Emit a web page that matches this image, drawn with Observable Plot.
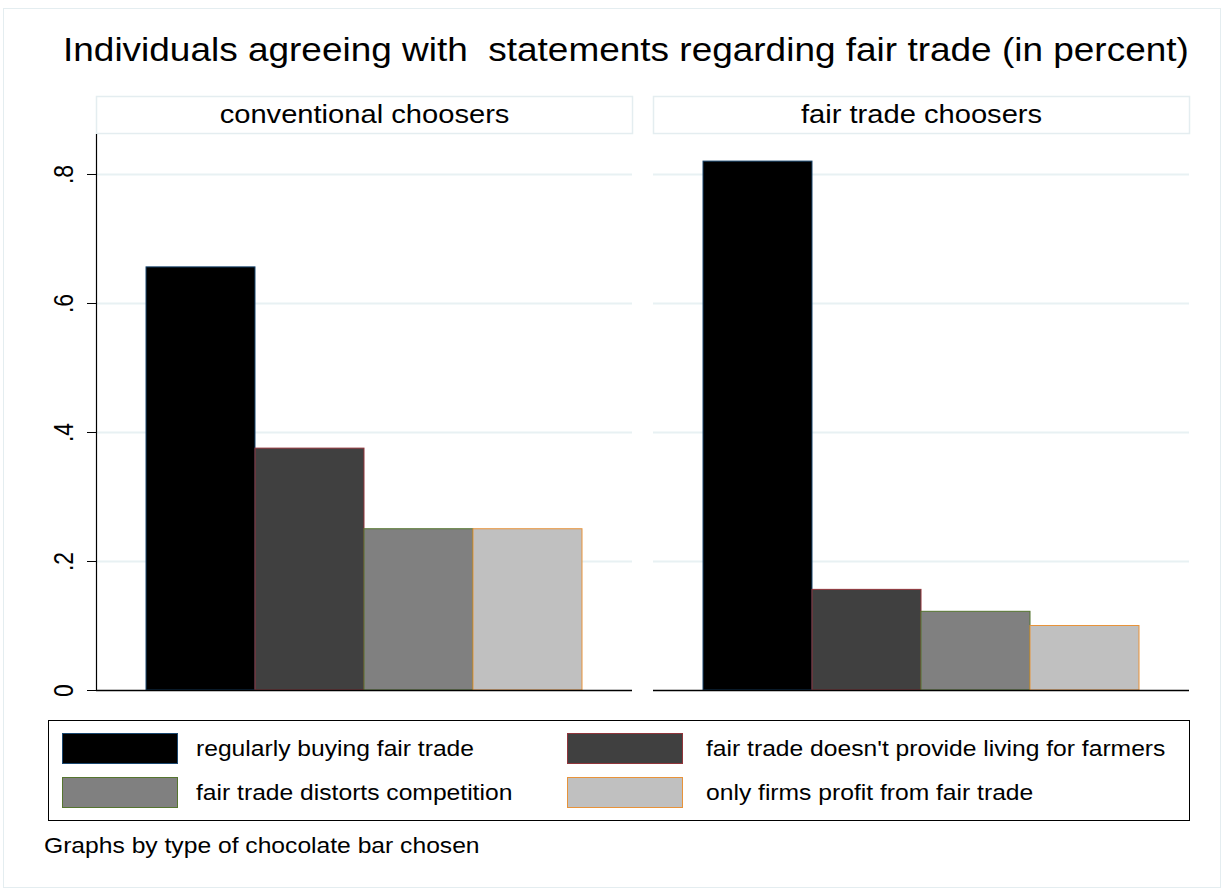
<!DOCTYPE html>
<html><head><meta charset="utf-8">
<script src="https://cdn.jsdelivr.net/npm/d3@7"></script>
<script src="https://cdn.jsdelivr.net/npm/@observablehq/plot@0.6"></script>
<style>
body{margin:0;background:#fff;font-family:"Liberation Sans",Arial,sans-serif;}
#wrap{position:relative;width:1225px;height:892px;overflow:hidden;background:#fff}
#wrap svg{position:absolute;left:0;top:0}
.t{position:absolute;white-space:pre;transform-origin:left center;color:#000;line-height:1}
.border{position:absolute;left:3px;top:8px;width:1218px;height:880px;border:1px solid #e4edf0;box-sizing:border-box}
.legend{position:absolute;left:48px;top:720px;width:1142px;height:101px;border:1.5px solid #000;box-sizing:border-box}
.sw{position:absolute;box-sizing:border-box;border:1.5px solid}
</style></head><body><div id="wrap"><div class="border"></div></div>
<script>
const panels = ["conventional choosers", "fair trade choosers"];
const statements = [
  "regularly buying fair trade",
  "fair trade doesn't provide living for farmers",
  "fair trade distorts competition",
  "only firms profit from fair trade"
];
const conventionalValues = [0.656, 0.375, 0.25, 0.25];
const fairTradeValues = [0.82, 0.156, 0.122, 0.1];
const fillColors = ["#000000", "#404040", "#808080", "#c0c0c0"];
const outlineColors = ["#1a476f", "#90353b", "#55752f", "#e8933a"];
const yTicks = [0, 0.2, 0.4, 0.6, 0.8];
const titleText = "Individuals agreeing with  statements regarding fair trade (in percent)";
const noteText = "Graphs by type of chocolate bar chosen";

const data = [];
panels.forEach((p, i) => statements.forEach((s, j) => data.push({
  panel: p, statement: s,
  value: (i === 0 ? conventionalValues : fairTradeValues)[j],
  fill: fillColors[j], stroke: outlineColors[j]
})));

const FONT = '"Liberation Sans", Arial, sans-serif';
const STRETCH = 1.12;
const fmt = d => d === 0 ? "0" : String(d).replace(/^0\./, ".");

const chart = Plot.plot({
  width: 1225, height: 892,
  marginTop: 134, marginLeft: 95, marginRight: 35, marginBottom: 202,
  style: {fontFamily: FONT, background: "transparent", color: "#000", overflow: "visible"},
  fx: {domain: panels, paddingInner: 0.0376, paddingOuter: 0, axis: null},
  x: {domain: statements, paddingInner: 0, paddingOuter: 0.455, axis: null},
  y: {domain: [0, 0.862], axis: null},
  color: {type: "identity"},
  marks: [
    Plot.frame({stroke: "#e4edf0", strokeWidth: 1.5, insetTop: -38, insetBottom: 557}),
    Plot.text(panels, {fx: d => d, text: d => d, frameAnchor: "top", lineAnchor: "middle", dy: -20, fontSize: 26, fill: "#000", className: "strip"}),
    Plot.gridY(yTicks.slice(1), {stroke: "#e8f1f3", strokeOpacity: 1, strokeWidth: 2}),
    Plot.barY(data, {fx: "panel", x: "statement", y: "value", fill: "fill", stroke: "stroke", strokeWidth: 1, inset: 0}),
    Plot.ruleY([0], {stroke: "#000", strokeWidth: 1.5}),
    Plot.axisY(yTicks, {label: null, tickFormat: fmt, tickRotate: -90, tickSize: 9, tickPadding: 15, fontSize: 23, stroke: "#000", fill: "#000", className: "yax"}),
    Plot.frame({anchor: "left", facetAnchor: "left", stroke: "#000", strokeWidth: 1.2})
  ]
});
const wrap = document.getElementById("wrap");
wrap.appendChild(chart);

// widen strip labels (reference text is horizontally stretched)
d3.select(chart).selectAll(".strip text").each(function() {
  const w = this.getComputedTextLength();
  this.setAttribute("textLength", w * STRETCH);
  this.setAttribute("lengthAdjust", "spacingAndGlyphs");
});
// rotated tick labels: stretch their glyph height (page-horizontal) as well
d3.select(chart).selectAll(".yax text").each(function() {
  const t = this.getAttribute("transform");
  if (t && t.includes("rotate")) this.setAttribute("transform", t + " scale(1,1.2)");
});

function addText(txt, left, top, size, sx) {
  const el = document.createElement("div");
  el.className = "t";
  el.textContent = txt;
  el.style.left = left + "px";
  el.style.top = top + "px";
  el.style.fontSize = size + "px";
  el.style.transform = `translateY(-50%) scaleX(${sx})`;
  wrap.appendChild(el);
  return el;
}
addText(titleText, 63, 49, 33, STRETCH);

const lg = document.createElement("div");
lg.className = "legend";
wrap.appendChild(lg);
const swX = [62, 567], txX = [196, 706], rowY = [733, 777];
statements.forEach((s, j) => {
  const col = j % 2, row = Math.floor(j / 2);
  const sw = document.createElement("div");
  sw.className = "sw";
  sw.style.left = swX[col] + "px"; sw.style.top = rowY[row] + "px";
  sw.style.width = "116px"; sw.style.height = "31px";
  sw.style.background = fillColors[j]; sw.style.borderColor = outlineColors[j];
  wrap.appendChild(sw);
  addText(s, txX[col], rowY[row] + 16, 22, STRETCH);
});
addText(noteText, 44, 846, 22, STRETCH);
</script>
</body></html>
